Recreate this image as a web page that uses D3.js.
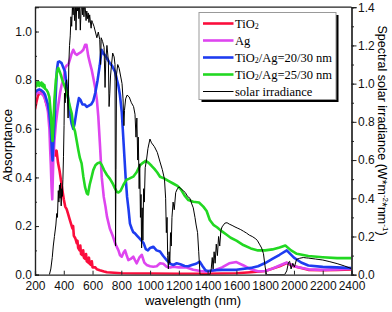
<!DOCTYPE html>
<html>
<head>
<meta charset="utf-8">
<script src="https://cdn.jsdelivr.net/npm/d3@7"></script>
<style>
  body { margin: 0; background: #fff; }
  text { font-family: Arial, "Liberation Sans", sans-serif; }
</style>
</head>
<body>
<script>
// absorptance curves: [wavelength nm, absorptance]
const tio2 = [[200,0.68],[210,0.71],[220,0.735],[230,0.745],[240,0.75],[250,0.745],[260,0.74],[270,0.725],[280,0.70],[290,0.685],[300,0.67],[310,0.63],[320,0.57],[330,0.52],[340,0.49],[350,0.51],[360,0.46],[370,0.43],[380,0.39],[390,0.35],[400,0.31],[410,0.28],[420,0.27],[430,0.25],[440,0.23],[450,0.21],[460,0.19],[465,0.2],[470,0.16],[480,0.15],[490,0.13],[495,0.14],[500,0.11],[510,0.1],[515,0.12],[520,0.085],[530,0.08],[535,0.1],[540,0.07],[550,0.065],[555,0.085],[560,0.055],[570,0.05],[575,0.07],[580,0.045],[590,0.04],[595,0.055],[600,0.03],[620,0.03],[630,0.022],[650,0.018],[680,0.013],[700,0.01],[750,0.008],[800,0.006],[900,0.005],[1000,0.005],[1200,0.004],[1400,0.004],[1600,0.006],[1700,0.01],[1800,0.015],[1900,0.035],[1950,0.048],[2000,0.035],[2100,0.02],[2200,0.018],[2300,0.02],[2400,0.022]];

const ag = [[200,0.735],[210,0.745],[220,0.75],[230,0.748],[240,0.745],[250,0.742],[260,0.735],[270,0.72],[280,0.70],[290,0.67],[300,0.6],[305,0.52],[310,0.45],[315,0.36],[320,0.31],[323,0.38],[327,0.47],[335,0.55],[345,0.62],[355,0.67],[365,0.71],[375,0.75],[385,0.78],[397,0.8],[409,0.85],[420,0.86],[432,0.865],[445,0.89],[455,0.91],[466,0.925],[478,0.91],[490,0.904],[505,0.91],[520,0.915],[536,0.925],[548,0.945],[558,0.945],[570,0.9],[582,0.87],[595,0.84],[605,0.81],[618,0.77],[630,0.72],[640,0.65],[652,0.53],[664,0.4],[678,0.32],[690,0.28],[700,0.24],[720,0.19],[740,0.16],[760,0.125],[780,0.1],[791,0.08],[803,0.074],[815,0.09],[826,0.1],[837,0.08],[849,0.06],[865,0.065],[883,0.074],[895,0.06],[907,0.047],[925,0.07],[942,0.082],[960,0.05],[976,0.04],[1000,0.035],[1022,0.033],[1046,0.035],[1069,0.047],[1092,0.045],[1115,0.033],[1140,0.03],[1161,0.033],[1200,0.03],[1254,0.03],[1300,0.02],[1350,0.015],[1400,0.012],[1450,0.018],[1500,0.03],[1550,0.047],[1600,0.052],[1650,0.038],[1700,0.022],[1750,0.014],[1800,0.015],[1850,0.025],[1900,0.038],[1950,0.05],[2000,0.035],[2100,0.022],[2200,0.02],[2300,0.022],[2400,0.025]];

const ag20 = [[200,0.75],[210,0.755],[220,0.76],[230,0.762],[240,0.76],[250,0.755],[260,0.75],[270,0.74],[280,0.72],[290,0.70],[300,0.66],[310,0.6],[318,0.5],[322,0.47],[328,0.55],[335,0.62],[345,0.75],[352,0.84],[360,0.875],[370,0.877],[385,0.87],[398,0.85],[409,0.835],[420,0.774],[432,0.72],[443,0.664],[455,0.62],[466,0.6],[475,0.62],[490,0.678],[505,0.726],[515,0.72],[530,0.70],[545,0.70],[560,0.69],[575,0.695],[590,0.70],[605,0.715],[620,0.75],[635,0.8],[650,0.86],[663,0.925],[675,0.91],[690,0.9],[705,0.885],[720,0.87],[735,0.86],[756,0.835],[770,0.8],[779,0.78],[790,0.74],[803,0.67],[814,0.56],[822,0.48],[830,0.4],[840,0.32],[850,0.27],[860,0.21],[872,0.19],[883,0.175],[895,0.17],[910,0.16],[925,0.15],[940,0.14],[955,0.13],[970,0.105],[985,0.1],[1000,0.11],[1022,0.115],[1045,0.1],[1069,0.095],[1090,0.078],[1115,0.06],[1140,0.045],[1161,0.04],[1185,0.047],[1210,0.043],[1240,0.036],[1265,0.035],[1290,0.04],[1320,0.045],[1345,0.054],[1365,0.035],[1385,0.018],[1400,0.015],[1450,0.018],[1500,0.02],[1600,0.02],[1700,0.028],[1750,0.035],[1800,0.048],[1850,0.065],[1900,0.082],[1950,0.1],[2000,0.07],[2050,0.05],[2100,0.038],[2200,0.032],[2300,0.03],[2400,0.027]];

const ag25 = [[200,0.77],[205,0.785],[210,0.775],[215,0.79],[220,0.78],[225,0.792],[230,0.776],[235,0.787],[240,0.78],[245,0.79],[250,0.775],[255,0.785],[260,0.77],[265,0.78],[270,0.765],[280,0.76],[290,0.75],[300,0.73],[310,0.66],[318,0.58],[322,0.55],[328,0.62],[335,0.72],[345,0.8],[355,0.84],[362,0.85],[375,0.83],[390,0.8],[409,0.77],[420,0.75],[432,0.72],[443,0.69],[455,0.664],[466,0.61],[478,0.59],[490,0.55],[501,0.513],[512,0.48],[524,0.458],[536,0.403],[548,0.36],[560,0.335],[568,0.33],[580,0.37],[593,0.4],[605,0.43],[620,0.45],[635,0.458],[652,0.462],[665,0.45],[680,0.43],[700,0.41],[720,0.395],[740,0.375],[756,0.355],[770,0.34],[780,0.338],[795,0.345],[815,0.37],[835,0.39],[855,0.395],[883,0.403],[905,0.42],[930,0.45],[950,0.46],[970,0.468],[990,0.46],[1010,0.448],[1030,0.435],[1050,0.42],[1069,0.403],[1100,0.395],[1130,0.385],[1160,0.375],[1190,0.365],[1215,0.35],[1240,0.325],[1266,0.307],[1300,0.3],[1340,0.297],[1370,0.28],[1393,0.262],[1415,0.225],[1440,0.205],[1465,0.195],[1500,0.178],[1530,0.165],[1560,0.152],[1600,0.14],[1648,0.122],[1700,0.108],[1750,0.1],[1800,0.1],[1850,0.104],[1900,0.112],[1940,0.12],[1980,0.1],[2020,0.086],[2100,0.077],[2200,0.072],[2300,0.068],[2400,0.068]];

// solar irradiance: [wavelength nm, W m-2 nm-1]
const solar = [[300,0],[310,0.03],[320,0.09],[327,0.15],[335,0.2],[345,0.26],[351,0.32],[356,0.3],[362,0.44],[366,0.38],[370,0.47],[374,0.4],[378,0.48],[382,0.36],[386,0.45],[390,0.41],[394,0.5],[398,0.62],[402,0.78],[405,0.95],[410,0.9],[415,1.0],[420,1.02],[425,0.95],[430,0.82],[435,1.1],[440,1.2],[445,1.25],[450,1.35],[455,1.3],[460,1.4],[465,1.36],[470,1.43],[475,1.33],[480,1.45],[485,1.28],[490,1.42],[495,1.38],[500,1.44],[505,1.34],[510,1.42],[515,1.28],[520,1.38],[525,1.44],[530,1.36],[535,1.45],[540,1.35],[545,1.42],[550,1.39],[555,1.33],[560,1.38],[565,1.34],[570,1.37],[575,1.32],[580,1.36],[590,1.29],[595,1.33],[600,1.32],[610,1.3],[620,1.27],[630,1.24],[640,1.27],[650,1.23],[656,1.1],[660,1.24],[670,1.22],[680,1.19],[687,0.98],[692,1.12],[700,1.2],[710,1.12],[715,0.88],[720,0.95],[725,1.04],[732,1.1],[740,1.16],[750,1.14],[756,1.1],[760,0.15],[763,0.55],[767,1.05],[775,1.1],[785,1.08],[795,1.04],[805,1.0],[812,0.92],[818,0.78],[822,0.86],[830,0.92],[840,0.94],[855,0.93],[870,0.9],[885,0.88],[895,0.84],[902,0.72],[908,0.82],[914,0.6],[918,0.72],[924,0.45],[928,0.58],[933,0.3],[937,0.42],[941,0.14],[945,0.35],[950,0.18],[955,0.45],[960,0.38],[966,0.56],[975,0.6],[985,0.66],[999,0.71],[1010,0.69],[1030,0.67],[1050,0.64],[1069,0.59],[1085,0.55],[1100,0.5],[1108,0.4],[1113,0.22],[1118,0.3],[1122,0.1],[1127,0.03],[1132,0.12],[1137,0.06],[1142,0.22],[1147,0.15],[1152,0.3],[1160,0.38],[1168,0.34],[1178,0.43],[1190,0.45],[1200,0.46],[1215,0.45],[1230,0.44],[1245,0.43],[1260,0.41],[1277,0.4],[1290,0.37],[1300,0.35],[1312,0.3],[1320,0.26],[1330,0.22],[1338,0.12],[1347,0.0],[1416,0.0],[1425,0.03],[1432,0.09],[1438,0.03],[1445,0.12],[1452,0.06],[1460,0.16],[1468,0.1],[1476,0.2],[1484,0.15],[1492,0.23],[1500,0.25],[1510,0.26],[1520,0.27],[1535,0.272],[1550,0.265],[1570,0.258],[1590,0.25],[1610,0.243],[1630,0.236],[1650,0.227],[1670,0.218],[1690,0.207],[1710,0.2],[1730,0.19],[1745,0.18],[1760,0.16],[1775,0.14],[1788,0.11],[1800,0.04],[1810,0.0],[1935,0.0],[1950,0.02],[1962,0.065],[1970,0.07],[1980,0.03],[1992,0.06],[2003,0.04],[2018,0.08],[2040,0.086],[2065,0.09],[2085,0.088],[2100,0.087],[2150,0.082],[2200,0.077],[2250,0.068],[2300,0.058],[2350,0.046],[2400,0.032]];

const seriesNames = ["TiO2", "Ag", "TiO2/Ag=20/30 nm", "TiO2/Ag=25/30 nm", "solar irradiance"];
const seriesColors = ["#fb0d3c", "#de45ef", "#1e3cf0", "#22d822", "#000000"];
const xTicks = [200, 400, 600, 800, 1000, 1200, 1400, 1600, 1800, 2000, 2200, 2400];
const yLeftTicks = [0, 0.2, 0.4, 0.6, 0.8, 1.0];
const yRightTicks = [0, 0.2, 0.4, 0.6, 0.8, 1.0, 1.2, 1.4];

const width = 392, height = 312;
const plotLeft = 35, plotRight = 351.5, plotTop = 7.2, plotBottom = 274.7;

const svg = d3.select("body").append("svg")
    .attr("width", width)
    .attr("height", height);

const x = d3.scaleLinear().domain([200, 2400]).range([plotLeft, plotRight]);
const yL = d3.scaleLinear().domain([0, 1.1]).range([plotBottom, plotTop]);
const yR = d3.scaleLinear().domain([0, 1.4]).range([plotBottom, plotTop]);

svg.append("clipPath").attr("id", "plot")
    .append("rect")
    .attr("x", plotLeft).attr("y", plotTop)
    .attr("width", plotRight - plotLeft).attr("height", plotBottom - plotTop);

// curves
const lineL = d3.line().x(d => x(d[0])).y(d => yL(d[1]));
const lineR = d3.line().x(d => x(d[0])).y(d => yR(d[1]));

const g = svg.append("g").attr("clip-path", "url(#plot)");
[tio2, ag, ag20, ag25].forEach((data, i) => {
    g.append("path")
        .attr("d", lineL(data))
        .attr("fill", "none")
        .attr("stroke", seriesColors[i])
        .attr("stroke-width", 2.6)
        .attr("stroke-linejoin", "round");
});
g.append("path")
    .attr("d", lineR(solar))
    .attr("fill", "none")
    .attr("stroke", "#000")
    .attr("stroke-width", 1);

// axes
const styleAxis = (sel) => {
    sel.select(".domain").attr("stroke", "#222").attr("stroke-width", 1.2);
    sel.selectAll(".tick line").attr("stroke", "#222");
    sel.selectAll("text").attr("font-size", 12).attr("fill", "#111");
};

svg.append("g")
    .attr("transform", `translate(${plotLeft},0)`)
    .call(d3.axisLeft(yL).tickValues(d3.range(0, 1.05, 0.1)).tickSize(-2).tickFormat(""))
    .call(styleAxis);
svg.append("g")
    .attr("transform", `translate(${plotLeft},0)`)
    .call(d3.axisLeft(yL).tickValues(yLeftTicks).tickSize(-4).tickPadding(3).tickFormat(d3.format(".1f")))
    .call(styleAxis);

svg.append("g")
    .attr("transform", `translate(${plotRight},0)`)
    .call(d3.axisRight(yR).tickValues(d3.range(0, 1.45, 0.1)).tickSize(2.5).tickFormat(""))
    .call(styleAxis);
svg.append("g")
    .attr("transform", `translate(${plotRight},0)`)
    .call(d3.axisRight(yR).tickValues(yRightTicks).tickSize(5).tickPadding(1.5).tickFormat(d3.format(".1f")))
    .call(styleAxis);

svg.append("g")
    .attr("transform", `translate(0,${plotBottom})`)
    .call(d3.axisBottom(x).tickValues(xTicks).tickSize(-4).tickPadding(7).tickFormat(d3.format("d")))
    .call(styleAxis);

svg.append("line")
    .attr("x1", plotLeft).attr("x2", plotRight)
    .attr("y1", plotTop).attr("y2", plotTop)
    .attr("stroke", "#222").attr("stroke-width", 1.2);

// axis titles
svg.append("text")
    .attr("transform", `translate(${width / 2 - 3},305) `)
    .attr("text-anchor", "middle")
    .attr("font-size", 13)
    .text("wavelength (nm)");

svg.append("text")
    .attr("transform", "translate(11.7,145.5) rotate(-90)")
    .attr("text-anchor", "middle")
    .attr("font-size", 13)
    .text("Absorptance");

const rTitle = svg.append("text")
    .attr("transform", "translate(378,130.5) rotate(90)")
    .attr("text-anchor", "middle")
    .attr("font-size", 12.5);
rTitle.append("tspan").text("Spectral solar irradiance (W*m");
rTitle.append("tspan").attr("font-size", 8).attr("dy", -5).text("-2");
rTitle.append("tspan").attr("dy", 5).text("*nm");
rTitle.append("tspan").attr("font-size", 8).attr("dy", -5).text("-1");
rTitle.append("tspan").attr("dy", 5).text(")");

// legend
const lg = svg.append("g");
lg.append("rect")
    .attr("x", 201.5).attr("y", 15)
    .attr("width", 137).attr("height", 87)
    .attr("fill", "#000");
lg.append("rect")
    .attr("x", 199).attr("y", 12.5)
    .attr("width", 137).attr("height", 87)
    .attr("fill", "#fff")
    .attr("stroke", "#999")
    .attr("stroke-width", 1);

const rowY = d3.scaleLinear().domain([0, 4]).range([23.5, 91.5]);
seriesNames.forEach((name, i) => {
    const y = rowY(i);
    lg.append("line")
        .attr("x1", 203).attr("x2", 233.5)
        .attr("y1", y).attr("y2", y)
        .attr("stroke", seriesColors[i])
        .attr("stroke-width", i < 4 ? 2.6 : 1);
    const t = lg.append("text")
        .attr("x", 235).attr("y", y + 4.2)
        .attr("font-size", 12.5)
        .style("font-family", "'Liberation Serif', 'Times New Roman', serif");
    const parts = name.split("TiO2");
    if (parts.length > 1) {
        t.append("tspan").text("TiO");
        t.append("tspan").attr("font-size", 8).attr("dy", 1.5).text("2");
        t.append("tspan").attr("dy", -1.5).text(parts[1]);
    } else {
        t.text(name);
    }
});
</script>
</body>
</html>
